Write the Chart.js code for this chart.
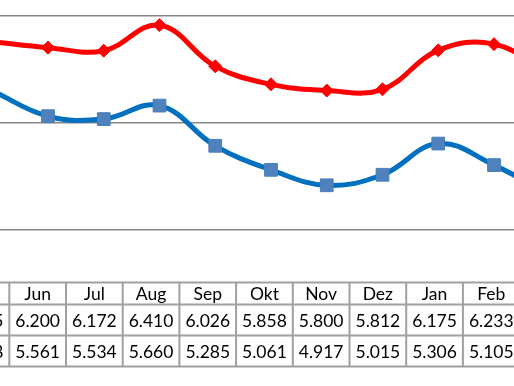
<!DOCTYPE html>
<html>
<head>
<meta charset="utf-8">
<script src="https://cdn.jsdelivr.net/npm/chart.js@4.4.0/dist/chart.umd.min.js"></script>
<style>
  html, body { margin: 0; padding: 0; background: #fff; overflow: hidden; width: 514px; height: 386px; }
  #wrap { position: absolute; left: -100px; top: 0; width: 700px; height: 386px; }
</style>
</head>
<body>
<div id="wrap"><canvas id="c" width="700" height="386"></canvas></div>
<script>
// Data (May and Mär are only partly visible at the cropped edges)
const categories = ["Mai", "Jun", "Jul", "Aug", "Sep", "Okt", "Nov", "Dez", "Jan", "Feb", "Mär"];
const redValues  = [6.255, 6.200, 6.172, 6.410, 6.026, 5.858, 5.800, 5.812, 6.175, 6.233, 5.960];
const blueValues = [5.798, 5.561, 5.534, 5.660, 5.285, 5.061, 4.917, 5.015, 5.306, 5.105, 4.830];
const yTicks = [4.5, 5.5, 6.5];

const OFF = 100; // canvas offset to the left of the visible page

function fmt(v) { return v.toFixed(3); }

const tablePlugin = {
  id: 'dataTable',
  afterDraw(chart) {
    const ctx = chart.ctx;
    const colW = 56.7;
    const firstLeft = OFF + 9.3 - colW; // left edge of the "Mai" column
    const rows = [282.5, 304.5, 335.5, 366.5];
    ctx.save();
    ctx.strokeStyle = '#a0a0a0';
    ctx.lineWidth = 2;
    const left = firstLeft, right = firstLeft + colW * categories.length;
    rows.forEach(y => { ctx.beginPath(); ctx.moveTo(left, y); ctx.lineTo(right, y); ctx.stroke(); });
    for (let i = 0; i <= categories.length; i++) {
      const x = firstLeft + i * colW;
      ctx.beginPath(); ctx.moveTo(x, rows[0]); ctx.lineTo(x, rows[3]); ctx.stroke();
    }
    ctx.fillStyle = '#000';
    ctx.font = '17.5px Lato, "Liberation Sans", sans-serif';
    ctx.textAlign = 'center';
    ctx.textBaseline = 'middle';
    categories.forEach((cat, i) => {
      const cx = firstLeft + (i + 0.5) * colW;
      ctx.fillText(cat, cx, (rows[0] + rows[1]) / 2 + 1);
      ctx.fillText(fmt(redValues[i]), cx, (rows[1] + rows[2]) / 2 + 1);
      ctx.fillText(fmt(blueValues[i]), cx, (rows[2] + rows[3]) / 2 + 1);
    });
    ctx.restore();
  }
};

new Chart(document.getElementById('c'), {
  type: 'line',
  data: {
    labels: categories,
    datasets: [
      {
        data: redValues,
        borderColor: '#ff0000',
        backgroundColor: '#ff0000',
        borderWidth: 5,
        tension: 0.4,
        pointStyle: 'rectRot',
        pointRadius: 6.5,
        pointBorderWidth: 1,
        pointBackgroundColor: '#ff0000',
        pointBorderColor: '#ff0000'
      },
      {
        data: blueValues,
        borderColor: '#0070c0',
        backgroundColor: '#4f81bd',
        borderWidth: 5,
        tension: 0.4,
        pointStyle: 'rect',
        pointRadius: 9,
        pointBorderWidth: 1,
        pointBackgroundColor: '#4f81bd',
        pointBorderColor: '#4a7ebb'
      }
    ]
  },
  options: {
    responsive: false,
    devicePixelRatio: 1,
    animation: false,
    layout: { padding: { left: OFF - 7.75, right: 700 - (OFF + 549.75), top: 15.5, bottom: 386 - 230 } },
    plugins: { legend: { display: false }, tooltip: { enabled: false } },
    scales: {
      x: { type: 'category', display: false, offset: false },
      y: {
        min: yTicks[0], max: yTicks[yTicks.length - 1],
        afterBuildTicks: (s) => { s.ticks = yTicks.map(v => ({ value: v })); },
        afterFit: (s) => { s.width = 0; },
        ticks: { display: false },
        border: { display: false },
        grid: { color: '#878787', lineWidth: 1.6, drawTicks: false }
      }
    }
  },
  plugins: [tablePlugin]
});
</script>
</body>
</html>
